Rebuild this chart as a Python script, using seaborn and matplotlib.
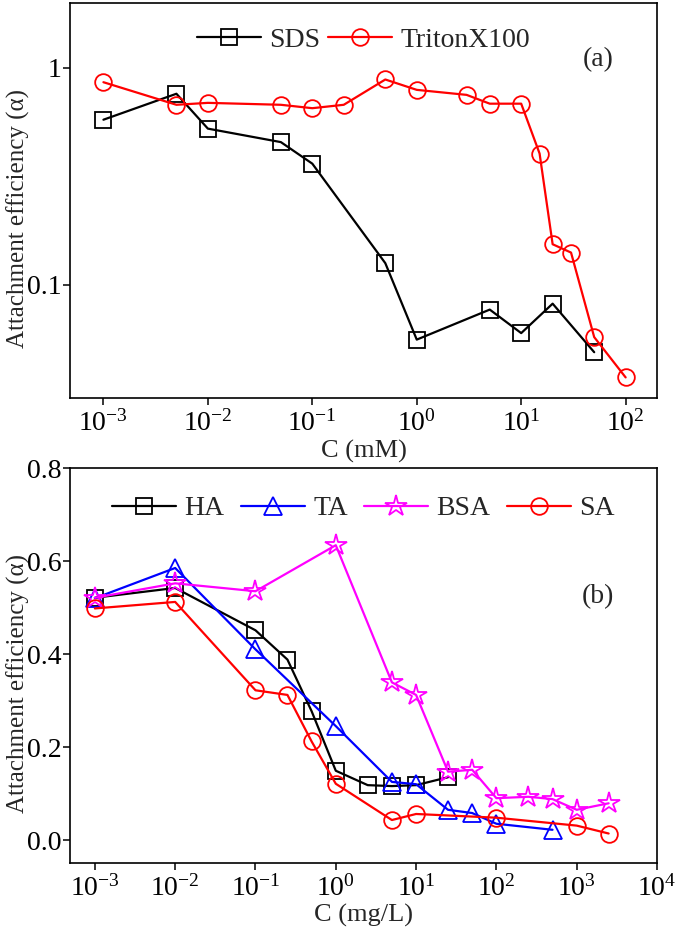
import numpy as np
import seaborn as sns
import matplotlib.pyplot as plt
from matplotlib.ticker import NullLocator, LogFormatterSciNotation

# (a) surfactants, C in mM
sds_c = [0.001, 0.005, 0.01, 0.05, 0.1, 0.5, 1, 5, 10, 20, 50]
sds_a = [0.577, 0.76, 0.525, 0.455, 0.362, 0.126, 0.056, 0.077, 0.060, 0.082, 0.049]
tri_c = [0.001, 0.005, 0.01, 0.05, 0.1, 0.2, 0.5, 1, 3, 5, 10, 15, 20, 30, 50, 100]
tri_a = [0.859, 0.676, 0.690, 0.676, 0.652, 0.676, 0.884, 0.792, 0.751, 0.684, 0.684,
         0.403, 0.154, 0.141, 0.0575, 0.0375]

# (b) organic matter, C in mg/L
ha_c = [0.001, 0.01, 0.1, 0.25, 0.5, 1, 2.5, 5, 10, 25]
ha_a = [0.521, 0.542, 0.451, 0.388, 0.277, 0.149, 0.118, 0.116, 0.118, 0.135]
ta_c = [0.001, 0.01, 0.1, 1, 5, 10, 25, 50, 100, 500]
ta_a = [0.52, 0.585, 0.41, 0.245, 0.125, 0.12, 0.065, 0.058, 0.035, 0.022]
bsa_c = [0.001, 0.01, 0.1, 1, 5, 10, 25, 50, 100, 250, 500, 1000, 2500]
bsa_a = [0.521, 0.552, 0.535, 0.634, 0.339, 0.312, 0.147, 0.151, 0.090, 0.093, 0.088, 0.065, 0.079]
sa_c = [0.001, 0.01, 0.1, 0.25, 0.5, 1, 5, 10, 100, 1000, 2500]
sa_a = [0.498, 0.512, 0.322, 0.312, 0.212, 0.121, 0.043, 0.056, 0.048, 0.031, 0.014]

xticks_a = [1e-3, 1e-2, 1e-1, 1, 10, 100]
xticks_b = [1e-3, 1e-2, 1e-1, 1, 10, 100, 1000, 10000]
yticks_a = [0.1, 1]
yticks_b = [0.0, 0.2, 0.4, 0.6, 0.8]

sns.set_style("ticks")
plt.rcParams['font.family'] = ['Liberation Serif', 'DejaVu Serif']
plt.rcParams['mathtext.fontset'] = 'custom'
plt.rcParams['mathtext.rm'] = 'Liberation Serif'
plt.rcParams['mathtext.it'] = 'Liberation Serif:italic'
plt.rcParams['font.size'] = 20

fig = plt.figure(figsize=(6.75, 9.36), dpi=100)
ax1 = fig.add_axes([0.1037, 0.5743, 0.8696, 0.423])
ax2 = fig.add_axes([0.1037, 0.0777, 0.8696, 0.4223])


def draw(ax, x, y, color, marker, label, ms=12):
    sns.lineplot(x=x, y=y, ax=ax, color=color, marker=marker, label=label,
                 markersize=ms, markerfacecolor='none', markeredgecolor=color,
                 markeredgewidth=1.3, linewidth=1.6)


draw(ax1, sds_c, sds_a, 'black', 's', 'SDS', 11)
draw(ax1, tri_c, tri_a, 'red', 'o', 'TritonX100')
ax1.set_xscale('log')
ax1.set_yscale('log')
ax1.set_xlim(10 ** -3.32, 10 ** 2.3)
ax1.set_ylim(0.03, 2)
ax1.set_yticks(yticks_a)
ax1.set_yticklabels(['0.1', '1'])
ax1.yaxis.set_minor_locator(NullLocator())
ax1.set_xticks(xticks_a)
ax1.xaxis.set_major_formatter(LogFormatterSciNotation())
ax1.xaxis.set_minor_locator(NullLocator())
ax1.set_xlabel('C (mM)', labelpad=2, fontsize=19)
ax1.set_ylabel('Attachment efficiency (α)', fontsize=18)
ax1.yaxis.set_label_coords(-0.068, 0.455)
ax1.text(0.9, 0.855, '(a)', transform=ax1.transAxes, ha='center', va='center')
ax1.legend(loc='upper center', ncol=2, frameon=False, bbox_to_anchor=(0.5, 1.0),
           handlelength=2.3, columnspacing=0.3, handletextpad=0.3, borderaxespad=0.5)

draw(ax2, ha_c, ha_a, 'black', 's', 'HA', 11)
draw(ax2, ta_c, ta_a, 'blue', '^', 'TA', 13)
draw(ax2, bsa_c, bsa_a, 'magenta', '*', 'BSA', 16)
draw(ax2, sa_c, sa_a, 'red', 'o', 'SA')
ax2.set_xscale('log')
ax2.set_xlim(10 ** -3.31, 10 ** 4)
ax2.set_ylim(-0.05, 0.8)
ax2.set_yticks(yticks_b)
ax2.set_yticklabels(['0.0', '0.2', '0.4', '0.6', '0.8'])
ax2.set_xticks(xticks_b)
ax2.xaxis.set_major_formatter(LogFormatterSciNotation())
ax2.xaxis.set_minor_locator(NullLocator())
ax2.set_xlabel('C (mg/L)', labelpad=2, fontsize=19)
ax2.set_ylabel('Attachment efficiency (α)', fontsize=18)
ax2.yaxis.set_label_coords(-0.068, 0.455)
ax2.text(0.9, 0.674, '(b)', transform=ax2.transAxes, ha='center', va='center')
ax2.legend(loc='upper center', ncol=4, frameon=False, bbox_to_anchor=(0.5, 1.0),
           handlelength=2.3, columnspacing=0.6, handletextpad=0.3, borderaxespad=0.6)

for ax in (ax1, ax2):
    for s in ax.spines.values():
        s.set_linewidth(1.2)
        s.set_color('black')
    ax.tick_params(direction='out', length=5, width=1.1, labelsize=20, colors='black')
    ax.tick_params(axis='y', pad=1)

fig.savefig('out.png', dpi=100)
